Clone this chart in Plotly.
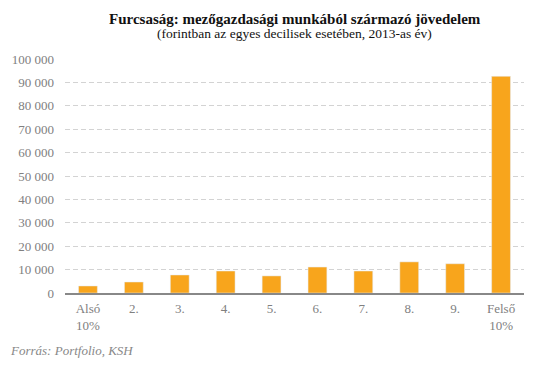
import plotly.graph_objects as go

categories = ["Alsó<br>10%", "2.", "3.", "4.", "5.", "6.", "7.", "8.", "9.", "Felső<br>10%"]
values = [3000, 4700, 7700, 9400, 7300, 11100, 9400, 13300, 12500, 92600]
tick_vals = [0, 10000, 20000, 30000, 40000, 50000, 60000, 70000, 80000, 90000, 100000]
tick_text = ["0", "10 000", "20 000", "30 000", "40 000", "50 000", "60 000", "70 000", "80 000", "90 000", "100 000"]

serif = "Georgia, 'Liberation Serif', 'DejaVu Serif', serif"

fig = go.Figure(go.Bar(x=categories, y=values, marker_color="#F8A51C", width=0.41))

fig.update_layout(
    width=535, height=365,
    margin=dict(l=64.5, r=10.5, t=59, b=72),
    paper_bgcolor="white", plot_bgcolor="white",
    font=dict(family=serif, color="#777777", size=13),
    showlegend=False,
)
fig.update_yaxes(
    range=[0, 100000], tickvals=tick_vals, ticktext=tick_text,
    showgrid=True, gridcolor="#d3d3d3", griddash="5px,3px", gridwidth=1,
    zeroline=False, showline=False, ticks="", ticklabelstandoff=10,
    tickfont=dict(size=13, color="#808080"),
)
fig.update_xaxes(
    showline=True, linecolor="#888888", linewidth=2,
    ticks="", ticklabelstandoff=2, tickfont=dict(size=13, color="#808080"),
)
fig.add_annotation(text="<b>Furcsaság: mezőgazdasági munkából származó jövedelem</b>",
                   xref="paper", yref="paper", x=0.5, y=1, xanchor="center", yanchor="bottom",
                   yshift=30, showarrow=False, font=dict(family=serif, size=15, color="#111111"))
fig.add_annotation(text="(forintban az egyes decilisek esetében, 2013-as év)",
                   xref="paper", yref="paper", x=0.5, y=1, xanchor="center", yanchor="bottom",
                   yshift=16, showarrow=False, font=dict(family=serif, size=13.5, color="#111111"))
fig.add_annotation(text="<i>Forrás: Portfolio, KSH</i>",
                   xref="paper", yref="paper", x=0, y=0, xanchor="left", yanchor="middle",
                   xshift=-57, yshift=-57, showarrow=False, font=dict(family=serif, size=13, color="#888888"))

fig.write_html("out.html", config={"displayModeBar": False},
               post_script="document.body.style.margin='0';")
